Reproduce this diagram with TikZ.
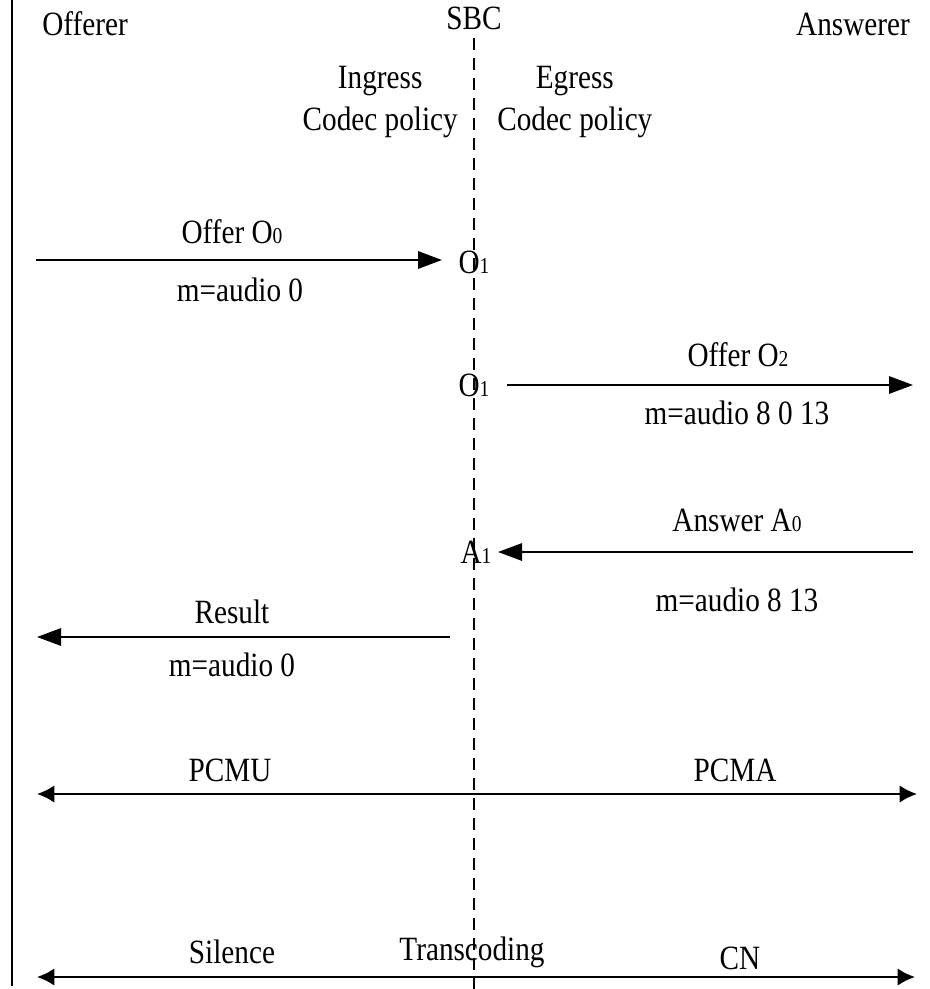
\documentclass[tikz,border=0pt]{standalone}
\usepackage{fontspec}
\setmainfont[FakeStretch=0.86]{Liberation Serif}
\usetikzlibrary{arrows.meta, positioning}

\newcommand{\msgsub}[1]{{\fontsize{17}{17}\selectfont #1}}

\begin{document}
\begin{tikzpicture}[
    x=0.75pt, y=-0.75pt,
    lbl/.style={inner sep=0pt, font=\fontsize{25.5}{31}\selectfont},
    msg/.style={line width=1.5pt, -{Triangle[length=18pt, width=13pt]}},
    media/.style={line width=1.5pt, {Latex[length=13pt, width=13pt]}-{Latex[length=13pt, width=13pt]}},
    lifeline/.style={line width=1.4pt},
    sbcline/.style={line width=1.2pt, dash pattern=on 9pt off 6pt}]
  \useasboundingbox (0,0) rectangle (929,989);

  % parties
  \node[lbl] (off) at (85,24) {Offerer};
  \node[lbl] (sbc) at (474,18) {SBC};
  \node[lbl] (ans) at (853,24) {Answerer};
  \coordinate (offtop) at (12,0);
  \coordinate (offbot) at (12,986);
  \coordinate (sbcbot) at (474,989);
  \draw[lifeline] (offtop) -- (offbot);
  \draw[sbcline] (sbc.south) ++(0,8) -- (sbcbot);

  % codec policies
  \node[lbl, align=center, anchor=east] (ing) at (458,102) {Ingress\\Codec policy};
  \node[lbl, align=center, anchor=west] (egr) at (497,102) {Egress\\Codec policy};

  % offer from offerer
  \coordinate (o0s) at (36,260);
  \coordinate (o0e) at (442,260);
  \node[lbl] (o1a) at (474,262) {O\msgsub{1}};
  \draw[msg] (o0s) -- (o0e);
  \node[lbl] (offer0) at (232,232) {Offer O\msgsub{0}};
  \node[lbl] (sdp0) at (240,290) {m=audio 0};

  % offer to answerer
  \node[lbl] (o1b) at (474,385) {O\msgsub{1}};
  \coordinate (o2s) at (507,385);
  \coordinate (o2e) at (913,385);
  \draw[msg] (o2s) -- (o2e);
  \node[lbl] (offer2) at (738,355) {Offer O\msgsub{2}};
  \node[lbl] (sdp2) at (737,413) {m=audio 8 0 13};

  % answer
  \node[lbl] (a1) at (476,552) {A\msgsub{1}};
  \coordinate (a0s) at (913,552);
  \coordinate (a0e) at (498,552);
  \draw[msg] (a0s) -- (a0e);
  \node[lbl] (ans0) at (737,520) {Answer A\msgsub{0}};
  \node[lbl] (sdpa) at (737,600) {m=audio 8 13};

  % result
  \coordinate (rs) at (450,637);
  \coordinate (re) at (37,637);
  \draw[msg] (rs) -- (re);
  \node[lbl] (res) at (232,612) {Result};
  \node[lbl] (sdpr) at (232,665) {m=audio 0};

  % media
  \coordinate (pl) at (37,794);
  \coordinate (pr) at (917,794);
  \draw[media] (pl) -- (pr);
  \node[lbl] (pcmu) at (230,770) {PCMU};
  \node[lbl] (pcma) at (735,770) {PCMA};

  \coordinate (sl) at (37,977);
  \coordinate (sr) at (915,977);
  \draw[media] (sl) -- (sr);
  \node[lbl] (sil) at (232,952) {Silence};
  \node[lbl] (trc) at (472,952) {Transcoding};
  \node[lbl] (cn) at (740,958) {CN};
\end{tikzpicture}
\end{document}
